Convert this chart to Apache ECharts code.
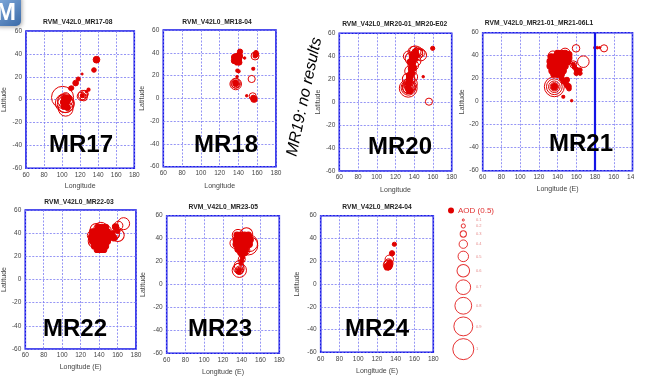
<!DOCTYPE html>
<html><head><meta charset="utf-8">
<script src="https://cdn.jsdelivr.net/npm/echarts@6/dist/echarts.min.js"></script>
<style>html,body{margin:0;padding:0;background:#fff}#c{width:653px;height:382px}</style>
</head><body><div id="c"></div>
<script>
// ---------- DATA: [longitude, latitude, AOD] ----------
const lonTicks = [60, 80, 100, 120, 140, 160, 180];
const latTicks = [-60, -40, -20, 0, 20, 40, 60];
const legendAod = [0.1, 0.2, 0.3, 0.4, 0.5, 0.6, 0.7, 0.8, 0.9, 1];

const mr17 = [
  [100.5, 2, 1.05], [103, -3, 0.9], [104, -4, 0.8], [104, -8, 0.7], [102, -1, 0.6], [106, -3, 0.55], [104, 2, 0.45],
  [103, 1, 0.3], [105, -1, 0.3], [104, -4, 0.3], [106, -7, 0.28], [102, -6, 0.28], [101, -2, 0.25], [107, 1, 0.3],
  [109.7, 9.9, 0.22], [110.7, 10.2, 0.2], [115, 14.5, 0.27], [117.9, 18, 0.2], [122.2, 22.4, 0.1],
  [129.3, 8.7, 0.15], [127, 7, 0.12],
  [121.4, 2.9, 0.4], [123, 4, 0.45], [125, 4.9, 0.35], [124, 2, 0.34], [122.5, 3.5, 0.2],
  [135.3, 25.9, 0.22], [138.1, 34.9, 0.32]
];
const mr18 = [
  [137, 34, 0.3], [140, 34, 0.3], [138, 36.5, 0.3], [139, 32, 0.3], [136, 36, 0.3], [141, 37, 0.3], [135.5, 33, 0.28], [141, 31.5, 0.25],
  [141.7, 41, 0.25], [140.5, 39, 0.2], [146.6, 35.4, 0.12],
  [140.2, 23.7, 0.15], [138.8, 24.3, 0.15], [138.5, 19, 0.12],
  [137.1, 12.6, 0.55], [137.1, 13, 0.45], [137, 12.5, 0.38], [137.1, 12.8, 0.28], [136.5, 14, 0.2],
  [158.7, 40, 0.22], [157.7, 37.2, 0.38], [157.7, 37.2, 0.2], [158.5, 38.5, 0.25],
  [155.8, 26, 0.15], [154.1, 17, 0.34], [148.8, 2.3, 0.12],
  [155.2, 1.8, 0.34], [156.6, -0.6, 0.3], [155.8, 0.5, 0.25]
];
const mr20 = [
  [159.7, 46.9, 0.2], [149.6, 22.2, 0.12], [155.7, 0.4, 0.34],
  [133.6, 12.1, 0.85], [133.8, 12.5, 0.7], [134, 13, 0.6], [133.5, 12, 0.5], [134, 14, 0.42], [133.6, 12.1, 0.3], [135, 10, 0.3],
  [143, 42, 0.55], [147, 41, 0.55], [139, 44, 0.5], [141, 44, 0.55], [134, 40, 0.5], [137, 38, 0.6], [141, 36, 0.55],
  [139, 32, 0.5], [136, 27, 0.55], [138, 22, 0.5], [134, 20, 0.6], [136, 16, 0.65], [144, 44, 0.45], [147, 43, 0.4],
  [138, 40, 0.3], [140, 38, 0.3], [142, 41, 0.3], [136, 35, 0.3], [139, 30, 0.3], [137, 25, 0.3], [135, 20, 0.3],
  [134, 16, 0.3], [138, 34, 0.3], [141, 44, 0.28], [137, 29, 0.3], [135, 23, 0.3]
];
const mr21 = [
  [159.7, 46.4, 0.36], [167.5, 34.8, 0.55],
  [189.6, 46.4, 0.34], [180, 47, 0.14], [182.5, 47, 0.12], [185, 47, 0.1],
  [156.8, 32.5, 0.34], [156.8, 32.5, 0.2],
  [160.4, 27.6, 0.25], [164, 27.6, 0.2], [158, 30, 0.22], [164, 24.7, 0.2], [160, 24.7, 0.22],
  [136.5, 13, 0.95], [136.5, 13, 0.75], [136.5, 13, 0.55], [136.5, 13, 0.4], [136.5, 13, 0.3],
  [147.9, 17.7, 0.25], [149.7, 14.8, 0.25], [151.5, 13.3, 0.28], [152.2, 11.3, 0.22],
  [146.1, 4.3, 0.15], [155, 0.9, 0.12], [144.4, 20.3, 0.25], [146, 17.4, 0.22], [150, 19, 0.25],
  [140, 42, 0.3], [144, 42, 0.3], [148, 42, 0.3], [152, 41, 0.3],
  [133, 39, 0.3], [137, 39, 0.3], [141, 39, 0.3], [145, 39, 0.3], [149, 39, 0.3], [152, 38, 0.3],
  [132, 35, 0.3], [136, 35, 0.3], [140, 35, 0.3], [144, 35, 0.3], [148, 35, 0.3], [151, 35, 0.3],
  [132, 31, 0.3], [136, 31, 0.3], [140, 31, 0.3], [144, 31, 0.3], [148, 31, 0.3],
  [134, 27, 0.3], [138, 27, 0.3], [142, 27, 0.3], [146, 27, 0.3],
  [136, 24, 0.3], [140, 24, 0.3], [144, 24, 0.3],
  [135, 40, 0.45], [148, 42, 0.5], [142, 30, 0.55], [138, 36, 0.6]
];
const mr22 = [
  [139, 45, 0.3], [143, 45, 0.3], [147, 45, 0.3],
  [133, 41, 0.3], [137, 41, 0.3], [141, 41, 0.3], [145, 41, 0.3], [149, 41, 0.3],
  [132, 37, 0.3], [136, 37, 0.3], [140, 37, 0.3], [144, 37, 0.3], [148, 37, 0.3], [151, 37, 0.3],
  [133, 33, 0.3], [137, 33, 0.3], [141, 33, 0.3], [145, 33, 0.3], [149, 33, 0.3],
  [135, 29, 0.3], [139, 29, 0.3], [143, 29, 0.3], [147, 29, 0.3],
  [138, 26, 0.3], [142, 26, 0.3], [145, 26, 0.3],
  [137, 43, 0.6], [142, 43, 0.7], [147, 42, 0.55], [133, 38, 0.5], [140, 38, 0.8], [135, 33, 0.6],
  [150, 37, 0.45], [145, 33, 0.55], [140, 30, 0.5],
  [166.6, 48.2, 0.57], [161, 46.5, 0.42], [157.8, 45.5, 0.3], [160.4, 38.2, 0.6], [158, 38.7, 0.34],
  [157, 38.7, 0.45], [154, 39, 0.3], [156, 36, 0.3], [160, 42, 0.25]
];
const mr23 = [
  [135, 43, 0.3], [139, 43, 0.3], [143, 43, 0.3], [147, 43, 0.3],
  [134, 39, 0.3], [138, 39, 0.3], [142, 39, 0.3], [146, 39, 0.3], [149, 39, 0.3],
  [134, 35, 0.3], [138, 35, 0.3], [142, 35, 0.3], [146, 35, 0.3], [148, 35, 0.3],
  [136, 31, 0.3], [140, 31, 0.3], [144, 31, 0.3],
  [139, 28, 0.3], [143, 28, 0.3],
  [136, 43, 0.55], [145, 44, 0.6], [148, 36, 0.8], [147, 34, 0.9], [133, 36, 0.5], [140, 38, 0.65],
  [143, 30, 0.5], [138, 31, 0.45],
  [141, 24, 0.22], [140, 22, 0.34], [140, 21.1, 0.2], [139, 18.2, 0.18],
  [137.4, 12.4, 0.68], [137, 14, 0.5], [137.4, 12.4, 0.4], [137, 16.7, 0.45], [137.4, 12, 0.33],
  [137.4, 12.4, 0.22], [136.5, 11, 0.2]
];
const mr24 = [
  [138.5, 34.9, 0.2], [136, 27, 0.25], [133.1, 21.7, 0.4], [132.4, 18.2, 0.42], [131.7, 16.7, 0.45],
  [132, 15.5, 0.35], [131, 15, 0.3], [132.5, 16, 0.3], [133.5, 19, 0.25]
];

// ---------- LAYOUT ----------
const RED = '#e00000', BLUE = '#1414e6', FONT = '"Liberation Sans", Arial, sans-serif';
const SIZE = 21; // px diameter per unit AOD
const panels = [
  {name: 'MR17', title: 'RVM_V42L0_MR17-08', data: mr17, g: [21.7, 31, 112.6, 137.3], xName: 'Longitude', xGap: 14, yGap: 18, t: [77.7, 22], lab: [81, 145], xMax: 180},
  {name: 'MR18', title: 'RVM_V42L0_MR18-04', data: mr18, g: [163.3, 30, 112.7, 136.7], xName: 'Longitude', xGap: 15.5, yGap: 18, t: [217, 21.7], lab: [226, 145], xMax: 180},
  {name: 'MR20', title: 'RVM_V42L0_MR20-01_MR20-E02', data: mr20, g: [339.3, 33.3, 112.4, 137.7], xName: 'Longitude', xGap: 15.5, yGap: 16, t: [394.7, 24.3], lab: [400, 147], xMax: 180},
  {name: 'MR21', title: 'RVM_V42L0_MR21-01_MR21-06L1', data: mr21, g: [482.7, 32.7, 149.8, 138], xName: 'Longitude (E)', xGap: 15, yGap: 16.5, t: [539, 23.3], lab: [581, 144], xMax: 220},
  {name: 'MR22', title: 'RVM_V42L0_MR22-03', data: mr22, g: [22.7, 210, 113.3, 139], xName: 'Longitude (E)', xGap: 15, yGap: 16.5, t: [79, 201.7], lab: [75, 329], xMax: 180},
  {name: 'MR23', title: 'RVM_V42L0_MR23-05', data: mr23, g: [166.7, 215.7, 112.6, 137.6], xName: 'Longitude (E)', xGap: 15, yGap: 20.5, t: [223.3, 207.3], lab: [220, 329], xMax: 180},
  {name: 'MR24', title: 'RVM_V42L0_MR24-04', data: mr24, g: [320.7, 215.7, 112.6, 136.6], xName: 'Longitude (E)', xGap: 15, yGap: 20.5, t: [377, 206.7], lab: [377, 329], xMax: 180}
];

const grid = [], xAxis = [], yAxis = [], series = [], graphic = [];
const axisLabel = {fontSize: 6.5, color: '#444', fontFamily: FONT};
const splitLine = {show: true, lineStyle: {color: '#7a7af2', width: 0.8, type: [2, 1.5]}};

panels.forEach((p, i) => {
  grid.push({left: p.g[0], top: p.g[1], width: p.g[2], height: p.g[3], show: true, borderColor: BLUE, borderWidth: 1.6, backgroundColor: 'transparent'});
  xAxis.push({type: 'value', gridIndex: i, min: lonTicks[0], max: p.xMax, interval: 20,
    axisLine: {show: false}, axisTick: {show: false}, splitLine,
    axisLabel: Object.assign({margin: 3, formatter: v => String(v > 180 ? 360 - v : v)}, axisLabel),
    name: p.xName, nameLocation: 'middle', nameGap: p.xGap, nameTextStyle: {fontSize: 7, color: '#444', fontFamily: FONT}});
  yAxis.push({type: 'value', gridIndex: i, min: latTicks[0], max: latTicks[latTicks.length - 1], interval: 20,
    axisLine: {show: false}, axisTick: {show: false}, splitLine,
    axisLabel: Object.assign({margin: 4}, axisLabel),
    name: 'Latitude', nameLocation: 'middle', nameRotate: 90, nameGap: p.yGap, nameTextStyle: {fontSize: 7, color: '#444', fontFamily: FONT}});
  const s = {type: 'scatter', name: 'AOD (0.5)', xAxisIndex: i, yAxisIndex: i, data: p.data, clip: true,
    symbol: 'circle', symbolSize: v => v[2] * SIZE,
    itemStyle: {color: prm => prm.value[2] <= 0.32 ? RED : 'rgba(0,0,0,0)', borderColor: RED, borderWidth: 1, opacity: 1},
    emphasis: {disabled: true}, silent: true};
  if (p.xMax > 180) {
    s.markLine = {silent: true, symbol: 'none', label: {show: false}, lineStyle: {color: BLUE, width: 2.2, type: 'solid'}, data: [{xAxis: 180}]};
  }
  series.push(s);
  graphic.push({type: 'text', x: p.t[0], y: p.t[1], z: 100,
    style: {text: p.title, fill: '#222', fontSize: 6.7, fontWeight: 'bold', fontFamily: FONT, align: 'center', verticalAlign: 'middle', textAlign: 'center', textVerticalAlign: 'middle'}});
  graphic.push({type: 'text', x: p.lab[0], y: p.lab[1], z: 100,
    style: {text: p.name, fill: '#000', fontSize: 24, fontWeight: 'bold', fontFamily: FONT, align: 'center', verticalAlign: 'middle', textAlign: 'center', textVerticalAlign: 'middle'}});
});

// legend grid (size key)
const LG = panels.length;
const legendPos = [];
let acc = 6;
legendAod.forEach((a, i) => { if (i > 0) acc += (legendAod[i - 1] + a) * SIZE / 2 + 2.8; legendPos.push(acc); });
grid.push({left: 450.6, top: 214, width: 25.4, height: 150, show: false});
xAxis.push({type: 'value', gridIndex: LG, min: 0, max: 2, show: false});
yAxis.push({type: 'value', gridIndex: LG, min: 0, max: 150, inverse: true, show: false});
series.push({type: 'scatter', xAxisIndex: LG, yAxisIndex: LG, silent: true,
  data: legendAod.map((a, i) => [1, legendPos[i], a]), symbolSize: v => v[2] * SIZE,
  itemStyle: {color: 'rgba(0,0,0,0)', borderColor: RED, borderWidth: 1}});
series.push({type: 'scatter', xAxisIndex: LG, yAxisIndex: LG, silent: true,
  data: legendAod.map((a, i) => [2, legendPos[i], a]), symbolSize: 0,
  label: {show: true, position: 'right', distance: 0, formatter: prm => String(prm.value[2]), fontSize: 4, color: '#e06a6a', fontFamily: FONT}});

// logo, MR19 note, mask for the cropped MR21 tick label
graphic.push({type: 'rect', x: -6, y: -6, z: 90, shape: {width: 27, height: 32, r: 5},
  style: {fill: new echarts.graphic.LinearGradient(0, 0, 1, 1, [{offset: 0, color: '#8db4e2'}, {offset: 1, color: '#3a6aa8'}]), shadowBlur: 4, shadowColor: 'rgba(0,0,0,0.35)', shadowOffsetX: 1, shadowOffsetY: 1}});
graphic.push({type: 'text', x: 6, y: 13, z: 95,
  style: {text: 'M', fill: '#fff', fontSize: 24, fontWeight: 'bold', fontFamily: FONT, align: 'center', verticalAlign: 'middle', textAlign: 'center', textVerticalAlign: 'middle'}});
graphic.push({type: 'text', x: 304.5, y: 97, rotation: 78 * Math.PI / 180, z: 100,
  style: {text: 'MR19: no results', fill: '#000', fontSize: 16, fontStyle: 'italic', fontFamily: FONT, align: 'center', verticalAlign: 'middle', textAlign: 'center', textVerticalAlign: 'middle'}});
graphic.push({type: 'rect', x: 634, y: 172, z: 100, shape: {width: 20, height: 14}, style: {fill: '#fff'}});

const chart = echarts.init(document.getElementById('c'), null, {renderer: 'canvas'});
chart.setOption({
  animation: false,
  color: [RED],
  textStyle: {fontFamily: FONT},
  legend: {data: ['AOD (0.5)'], left: 443, top: 201.5, icon: 'circle', itemWidth: 4, itemHeight: 4, selectedMode: false,
    textStyle: {fontSize: 8, color: '#e03030', fontFamily: FONT}},
  grid, xAxis, yAxis, series, graphic
});
</script></body></html>
